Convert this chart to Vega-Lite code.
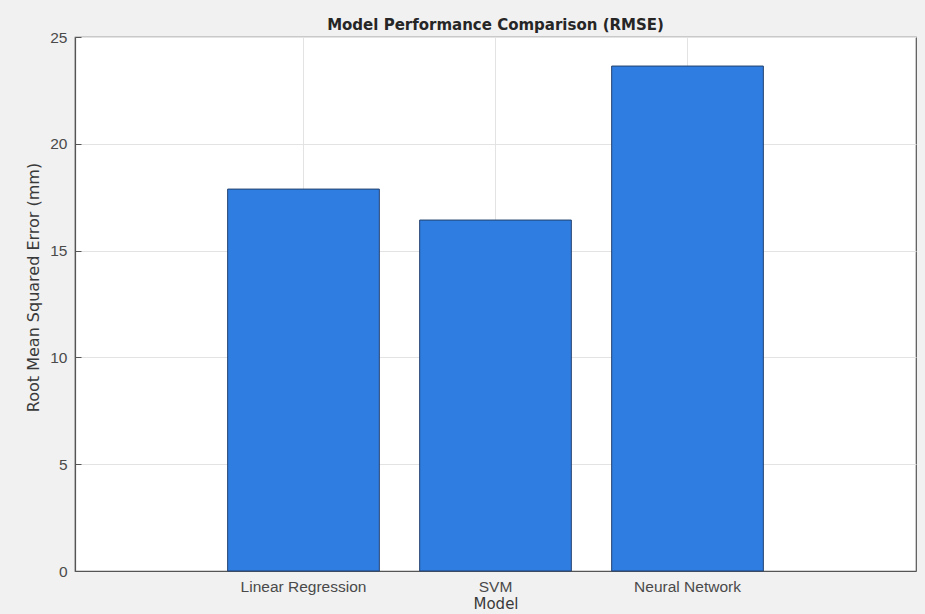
{
  "$schema": "https://vega.github.io/schema/vega-lite/v6.json",
  "width": 841,
  "height": 534,
  "autosize": {"type": "none"},
  "padding": {"left": 75, "top": 37, "right": 9, "bottom": 43},
  "background": "#f1f1f1",
  "title": {
    "text": "Model Performance Comparison (RMSE)",
    "font": "DejaVu Sans",
    "fontSize": 15,
    "fontWeight": "bold",
    "color": "#262626",
    "anchor": "middle",
    "frame": "group",
    "offset": -3
  },
  "config": {
    "view": {"stroke": "#555555", "strokeWidth": 1.2, "fill": "#ffffff"},
    "axis": {
      "labelFont": "Liberation Sans",
      "titleFont": "DejaVu Sans",
      "labelFontSize": 15.5,
      "titleFontSize": 15,
      "labelColor": "#4a4a4a",
      "titleColor": "#3a3a3a",
      "titleFontWeight": "normal",
      "domainColor": "#555555",
      "domainWidth": 1.2,
      "tickColor": "#555555",
      "tickSize": -6,
      "gridColor": "#e3e3e3",
      "gridWidth": 1
    }
  },
  "data": {
    "values": [
      {"model": "Linear Regression", "rmse": 17.88},
      {"model": "SVM", "rmse": 16.43},
      {"model": "Neural Network", "rmse": 23.64}
    ]
  },
  "mark": {"type": "bar", "color": "#2f7de1", "stroke": "#23426e", "strokeWidth": 1},
  "encoding": {
    "x": {
      "field": "model",
      "type": "nominal",
      "sort": null,
      "title": "Model",
      "scale": {"paddingInner": 0.21, "paddingOuter": 0.795},
      "axis": {
        "labelAngle": 0,
        "labelPadding": 14,
        "titlePadding": 2,
        "grid": true,
        "bandPosition": 0.5
      }
    },
    "y": {
      "field": "rmse",
      "type": "quantitative",
      "title": "Root Mean Squared Error (mm)",
      "scale": {"domain": [0, 25], "nice": false},
      "axis": {
        "values": [0, 5, 10, 15, 20, 25],
        "labelPadding": 14,
        "titlePadding": 8,
        "titleFontSize": 16,
        "titleY": 250,
        "grid": true
      }
    }
  }
}
